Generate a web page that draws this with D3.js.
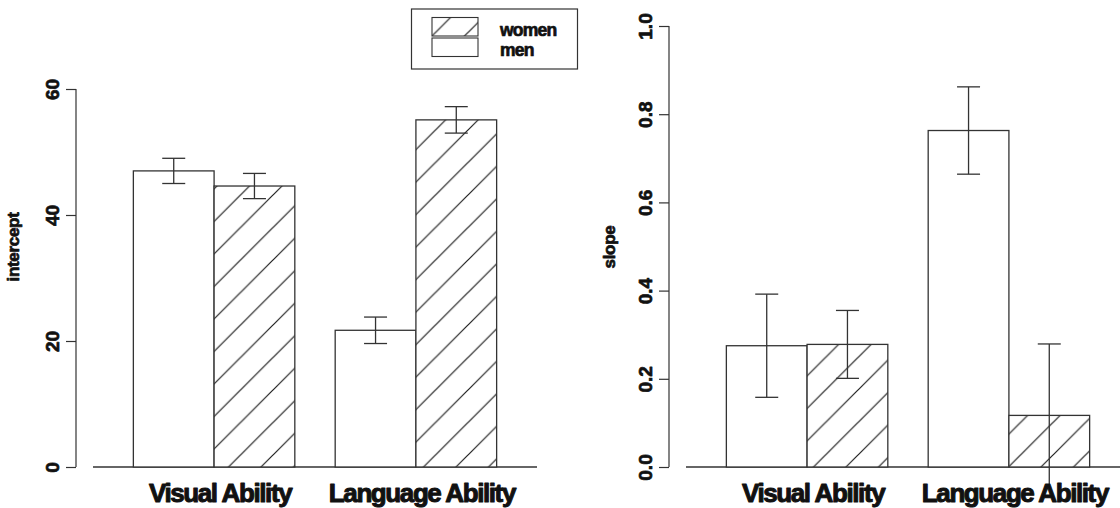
<!DOCTYPE html>
<html>
<head>
<meta charset="utf-8">
<script src="https://cdn.jsdelivr.net/npm/d3@7"></script>
<style>
  html, body { margin: 0; padding: 0; background: #fff; }
  svg { display: block; }
  text { font-family: "Liberation Sans", Arial, Helvetica, sans-serif; font-weight: bold; fill: #111; }
  .heavy { stroke: #111; stroke-width: 0.7px; stroke-linejoin: round; }
</style>
</head>
<body>
<svg id="chart" width="1120" height="508"></svg>
<script>
// Abilities on the x axis and the two groups within each
const abilities = ["Visual Ability", "Language Ability"];
const groups = ["men", "women"];

// Intercept estimates with standard errors
const interceptMen = [47.0, 21.7];
const interceptWomen = [44.6, 55.1];
const interceptMenErr = [2.0, 2.1];
const interceptWomenErr = [2.0, 2.1];
const interceptTicks = [0, 20, 40, 60];
const interceptTickLabels = ["0", "20", "40", "60"];

// Slope estimates with standard errors
const slopeMen = [0.275, 0.763];
const slopeWomen = [0.278, 0.117];
const slopeMenErr = [0.117, 0.099];
const slopeWomenErr = [0.077, 0.162];
const slopeTicks = [0, 0.2, 0.4, 0.6, 0.8, 1.0];
const slopeTickLabels = ["0.0", "0.2", "0.4", "0.6", "0.8", "1.0"];

const INK = "#333";
const svg = d3.select("#chart");
const defs = svg.append("defs");

// 45-degree hatching used for the women's bars
const step = 32.5;
const hatch = defs.append("pattern")
  .attr("id", "hatch")
  .attr("patternUnits", "userSpaceOnUse")
  .attr("x", 13).attr("y", 0)
  .attr("width", step).attr("height", step);
hatch.append("rect").attr("width", step).attr("height", step).attr("fill", "#fff");
hatch.append("path")
  .attr("d", `M0,${step} L${step},0 M-3,3 L3,-3 M${step - 3},${step + 3} L${step + 3},${step - 3}`)
  .attr("stroke", "#1e1e1e").attr("stroke-width", 1.2).attr("fill", "none");

// Plot region (bars and whiskers are clipped to it)
const plotTop = 8, plotBottom = 486, zeroY = 467, topY = 26;

const panels = [
  {
    id: "intercept", title: "intercept",
    men: interceptMen, women: interceptWomen,
    menErr: interceptMenErr, womenErr: interceptWomenErr,
    ticks: interceptTicks, tickLabels: interceptTickLabels,
    yMax: 70, xRange: [93, 537], axisX: 76, titleX: 13.5
  },
  {
    id: "slope", title: "slope",
    men: slopeMen, women: slopeWomen,
    menErr: slopeMenErr, womenErr: slopeWomenErr,
    ticks: slopeTicks, tickLabels: slopeTickLabels,
    yMax: 1.0, xRange: [686, 1130], axisX: 669, titleX: 610
  }
];

panels.forEach(p => {
  const y = d3.scaleLinear().domain([0, p.yMax]).range([zeroY, topY]);
  const x0 = d3.scaleBand().domain(abilities).range(p.xRange)
    .paddingInner(0.2).paddingOuter(0.2);
  const x1 = d3.scaleBand().domain(groups).range([0, x0.bandwidth()]).padding(0);

  const clipId = "clip-" + p.id;
  defs.append("clipPath").attr("id", clipId)
    .append("rect")
    .attr("x", p.xRange[0] - 60).attr("y", plotTop)
    .attr("width", p.xRange[1] - p.xRange[0] + 120)
    .attr("height", plotBottom - plotTop);

  const rows = abilities.map((a, i) => ({
    ability: a,
    values: [
      { group: "men", v: p.men[i], e: p.menErr[i] },
      { group: "women", v: p.women[i], e: p.womenErr[i] }
    ]
  }));

  // Baseline at zero
  svg.append("line")
    .attr("x1", p.xRange[0]).attr("x2", p.xRange[1])
    .attr("y1", y(0)).attr("y2", y(0))
    .attr("stroke", INK).attr("stroke-width", 1.3);

  const plot = svg.append("g").attr("clip-path", `url(#${clipId})`);

  // Bars
  rows.forEach(r => {
    r.values.forEach(d => {
      plot.append("rect")
        .attr("x", x0(r.ability) + x1(d.group))
        .attr("y", y(d.v))
        .attr("width", x1.bandwidth())
        .attr("height", y(0) - y(d.v))
        .attr("fill", d.group === "women" ? "url(#hatch)" : "#fff")
        .attr("stroke", INK).attr("stroke-width", 1.3);
    });
  });

  // Error bars (mean ± SE)
  const cap = 11.5;
  rows.forEach(r => {
    r.values.forEach(d => {
      const cx = x0(r.ability) + x1(d.group) + x1.bandwidth() / 2;
      const hi = y(d.v + d.e), lo = y(d.v - d.e);
      const g = plot.append("g").attr("stroke", INK).attr("stroke-width", 1.3);
      g.append("line").attr("x1", cx).attr("x2", cx).attr("y1", hi).attr("y2", lo);
      g.append("line").attr("x1", cx - cap).attr("x2", cx + cap).attr("y1", hi).attr("y2", hi);
      g.append("line").attr("x1", cx - cap).attr("x2", cx + cap).attr("y1", lo).attr("y2", lo);
    });
  });

  // Y axis
  const axis = d3.axisLeft(y)
    .tickValues(p.ticks)
    .tickFormat((d, i) => p.tickLabels[i])
    .tickSize(10);
  const ag = svg.append("g").attr("transform", `translate(${p.axisX},0)`).call(axis);
  ag.select(".domain").remove();
  ag.selectAll(".tick line").attr("stroke", INK).attr("stroke-width", 1.2);
  ag.selectAll(".tick text")
    .attr("class", "heavy")
    .attr("x", 0).attr("y", -24).attr("dy", "0.35em")
    .attr("transform", "rotate(-90)")
    .attr("text-anchor", "middle")
    .style("font-size", "19px").style("font-weight", "bold")
    .style("font-family", "'Liberation Sans', Arial, sans-serif")
    .attr("fill", "#111");
  ag.append("line")
    .attr("x1", 0).attr("x2", 0)
    .attr("y1", y(p.ticks[0])).attr("y2", y(p.ticks[p.ticks.length - 1]))
    .attr("stroke", INK).attr("stroke-width", 1.2);

  // Axis title
  svg.append("text")
    .attr("class", "heavy")
    .attr("transform", `translate(${p.titleX},${(plotTop + plotBottom) / 2}) rotate(-90)`)
    .attr("text-anchor", "middle").attr("dy", "0.32em")
    .style("font-size", "17px").style("letter-spacing", "-0.3px")
    .text(p.title);

  // Category labels
  svg.selectAll(null).data(abilities).enter().append("text")
    .attr("class", "heavy")
    .attr("x", d => x0(d) + x0.bandwidth() / 2 + 6)
    .attr("y", 502)
    .attr("text-anchor", "middle")
    .style("font-size", "26px").style("letter-spacing", "-1.4px")
    .style("stroke-width", "1px")
    .text(d => d);
});

// Legend
const legend = svg.append("g");
legend.append("rect")
  .attr("x", 411.5).attr("y", 9).attr("width", 166).attr("height", 60)
  .attr("fill", "#fff").attr("stroke", INK).attr("stroke-width", 1.2);
const legendItems = ["women", "men"];
legendItems.forEach((name, i) => {
  legend.append("rect")
    .attr("x", 432).attr("y", 17.5 + i * 20.5)
    .attr("width", 46).attr("height", 18.5)
    .attr("fill", name === "women" ? "url(#hatch)" : "#fff")
    .attr("stroke", INK).attr("stroke-width", 1.1);
  legend.append("text")
    .attr("class", "heavy")
    .attr("x", 500).attr("y", 36 + i * 20)
    .style("font-size", "17.5px").style("letter-spacing", "-0.8px")
    .text(name);
});
</script>
</body>
</html>
